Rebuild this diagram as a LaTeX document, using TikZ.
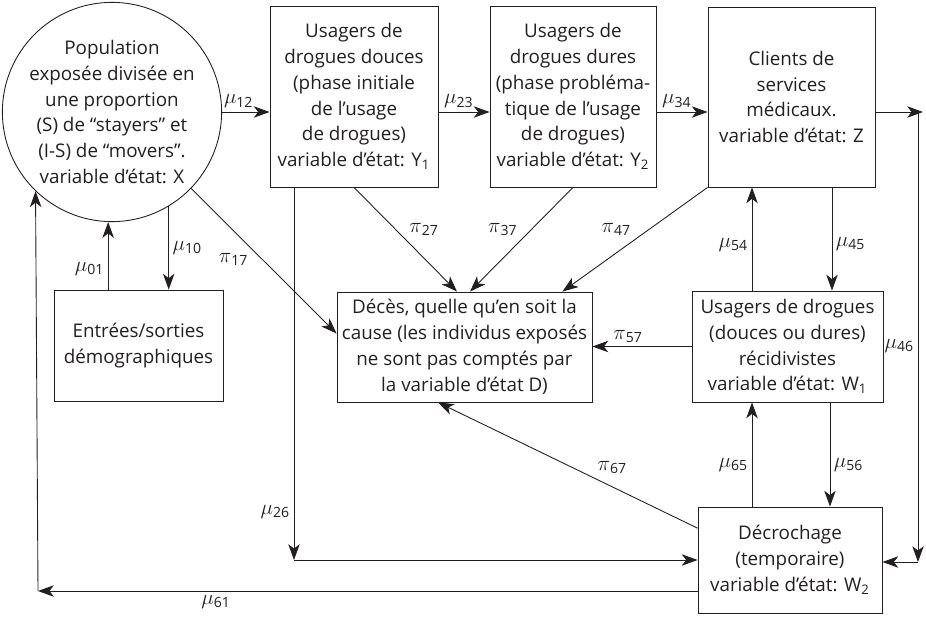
\documentclass[tikz,border=0pt]{standalone}
\usepackage{fontspec}
\setmainfont{Open Sans}
\usetikzlibrary{arrows.meta}
\definecolor{ink}{HTML}{231F20}
\newcommand{\rt}[2]{$#1$\textsubscript{#2}}

\begin{document}
\begin{tikzpicture}[x=0.02cm,y=-0.02cm,color=ink,line width=0.5pt]
        \tikzset{every node/.style={font=\fontsize{10.7}{14.7}\selectfont},
            box/.style={draw,align=center,inner sep=2pt},
            pop/.style={draw,circle,align=center,minimum size=4.24cm,inner sep=0pt},
            arr/.style={-{Stealth[length=9pt,width=6.5pt,inset=2.5pt]}},
            lbl/.style={inner sep=2pt,font=\fontsize{12}{14}\selectfont}}
        \useasboundingbox (0,0) rectangle (926,618);
        \node[pop] (X) at (112,112) {Population\\exposée divisée en\\une proportion\\(S) de “stayers” et\\(I-S) de “movers”.\\variable d’état: X};
        \node[box,minimum width=3.36cm,minimum height=3.62cm] (Y1) at (354,96.5)
            {Usagers de\\drogues douces\\(phase initiale\\de l’usage\\de drogues)\\variable d’état: Y\textsubscript{1}};
        \node[box,minimum width=3.32cm,minimum height=3.62cm] (Y2) at (573,96.5)
            {Usagers de\\drogues dures\\(phase probléma-\\tique de l’usage\\de drogues)\\variable d’état: Y\textsubscript{2}};
        \node[box,minimum width=3.34cm,minimum height=3.6cm] (Z) at (791.5,97)
            {Clients de\\services\\médicaux.\\variable d’état: Z};
        \node[box,minimum width=3.38cm,minimum height=2.22cm] (E) at (138.5,345.5)
            {Entrées/sorties\\démographiques};
        \node[box,minimum width=5.1cm,minimum height=2.2cm] (D) at (464.5,347)
            {Décès, quelle qu’en soit la\\cause (les individus exposés\\ne sont pas comptés par\\la variable d’état D)};
        \node[box,minimum width=3.82cm,minimum height=2.22cm] (W1) at (787.5,346.5)
            {Usagers de drogues\\(douces ou dures)\\récidivistes\\variable d’état: W\textsubscript{1}};
        \node[box,minimum width=3.68cm,minimum height=2.12cm] (W2) at (790,560)
            {Décrochage\\(temporaire)\\variable d’état: W\textsubscript{2}};
        \coordinate (zout) at (923,112);
        \coordinate (r1) at (918,112);
        \coordinate (r2) at (918,562);
        \coordinate (c26) at (294,560);
        \coordinate (c61) at (38,591);
        \draw[arr] (X.east) -- (X.east -| Y1.west) node[lbl,above,pos=0.35] {\rt\mu{12}};
        \draw[arr] (Y1.east |- X.east) -- (Y2.west |- X.east) node[lbl,above,pos=0.4] {\rt\mu{23}};
        \draw[arr] (Y2.east |- X.east) -- (Z.west |- X.east) node[lbl,above,pos=0.4] {\rt\mu{34}};
        \draw[arr] (Z.east |- zout) -- (zout);
        \draw[arr] (r1) -- (r2) node[lbl,left,pos=0.52] {\rt\mu{46}};
        \draw[arr] (r2) -- (r2 -| W2.east);
        \draw[arr] (E.north -| X.-92) -- (X.-92) node[lbl,left,pos=0.3] {\rt\mu{01}};
        \draw[arr] (X.-59) -- (X.-59 |- E.north) node[lbl,right,pos=0.5] {\rt\mu{10}};
        \draw[arr] (X.-44) -- (D.174) node[lbl,below left,pos=0.42] {\rt\pi{17}};
        \draw[arr] (Y1.south -| c26) -- (c26) node[lbl,left,pos=0.87] {\rt\mu{26}};
        \draw[arr] (c26) -- (c26 -| W2.west);
        \draw[arr] (W2.west |- c61) -- (c61) node[lbl,below,pos=0.73] {\rt\mu{61}};
        \draw[arr] (c61) -- (X.-134);
        \draw[arr] (Y1.south) -- ([xshift=-0.15cm]D.north) node[lbl,above right,pos=0.5] {\rt\pi{27}};
        \draw[arr] (Y2.south) -- ([xshift=0.11cm]D.north) node[lbl,above left,pos=0.5] {\rt\pi{37}};
        \draw[arr] (Z.south west) -- ([xshift=-0.6cm]D.north east) node[lbl,above left,pos=0.5] {\rt\pi{47}};
        \draw[arr] ([xshift=-0.71cm]W1.north) -- ([xshift=-0.71cm]W1.north |- Z.south) node[lbl,left,pos=0.44] {\rt\mu{54}};
        \draw[arr] ([xshift=0.81cm]Z.south) -- ([xshift=0.81cm]Z.south |- W1.north) node[lbl,right,pos=0.55] {\rt\mu{45}};
        \draw[arr] (W1.west) -- (W1.west -| D.east) node[lbl,above,pos=0.64] {\rt\pi{57}};
        \draw[arr] (W2.161) -- ([xshift=-0.53cm]D.south) node[lbl,above right,pos=0.4] {\rt\pi{67}};
        \draw[arr] ([xshift=-0.76cm]W2.north) -- ([xshift=-0.76cm]W2.north |- W1.south) node[lbl,left,pos=0.4] {\rt\mu{65}};
        \draw[arr] ([xshift=0.85cm]W1.south) -- ([xshift=0.85cm]W1.south |- W2.north) node[lbl,right,pos=0.6] {\rt\mu{56}};
    \end{tikzpicture}
\end{document}
